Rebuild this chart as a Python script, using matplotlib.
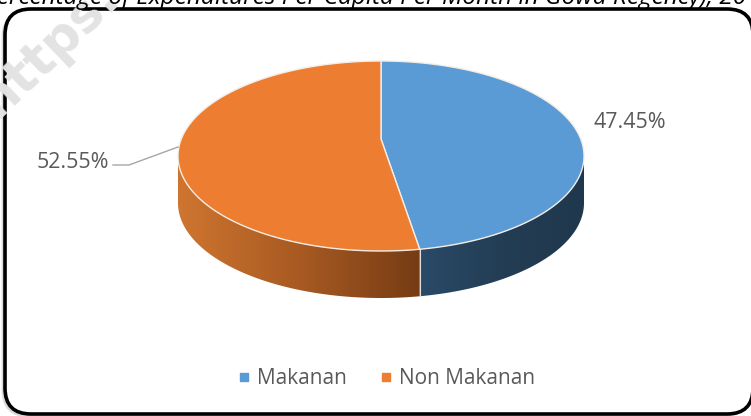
import numpy as np
import matplotlib
matplotlib.use("Agg")
import matplotlib.pyplot as plt
from matplotlib.colors import LinearSegmentedColormap
from matplotlib.patches import FancyBboxPatch, Polygon

# data
categories = ["Makanan", "Non Makanan"]
shares = [47.45, 52.55]
share_labels = ["47.45%", "52.55%"]
title = "Percentage of Expenditures Per Capita Per Month in Gowa Regency), 2017"

top_colors = ["#5B9BD5", "#ED7D31"]
side_colors = [["#2A4A68", "#233D54", "#20384D"], ["#CF7530", "#A85A22", "#763C14"]]

# pie geometry in pixels
cx, cy = 381, 156
rx, ry = 203, 95
depth = 47
# perspective: the pie centre sits above the middle of the ellipse
tilt = 0.179


def rim_angle(theta):
    """Angle on the drawn ellipse for an angle on the flat pie"""
    s, c = np.sin(theta), np.cos(theta)
    d = 1 + tilt * s
    return np.arctan2((s + tilt) / d, c * np.sqrt(1 - tilt ** 2) / d)


def edge(phi):
    return cx + rx * np.cos(phi), cy - ry * np.sin(phi)


fig = plt.figure(figsize=(7.51, 4.16), dpi=100)
ax = fig.add_axes([0, 0, 1, 1])
ax.set_xlim(0, 751)
ax.set_ylim(416, 0)
ax.axis("off")

# frame
ax.add_patch(FancyBboxPatch((3, 11), 746, 405, boxstyle="round,pad=0,rounding_size=26",
                            fc="none", ec="#DADADA", lw=2, zorder=1))
ax.add_patch(FancyBboxPatch((5, 9), 748, 405, boxstyle="round,pad=0,rounding_size=26",
                            fc="white", ec="black", lw=2.6, zorder=2))

# watermark
ax.text(50, 49, "https:", rotation=44, fontsize=37, fontweight="bold", color="#E3E3E3",
        ha="center", va="center", family="DejaVu Sans", zorder=3)

# title, cut by the top edge
ax.text(378, 4.5, title, fontsize=17.6, style="italic", color="black", ha="center", va="baseline",
        family="Open Sans", zorder=5)

# slices go clockwise from 12 o'clock
stops = np.cumsum([0] + shares) / 100.0
angles = np.pi / 2 - 2 * np.pi * stops
seam = rim_angle(angles[1])

# side wall, only the front half shows
wall_spans = [(seam, 0.0), (-np.pi, seam)]
for i in range(2):
    t = np.linspace(wall_spans[i][0], wall_spans[i][1], 200)
    x, y = edge(t)
    pts = np.r_[np.c_[x, y], np.c_[x[::-1], y[::-1] + depth]]
    clip = Polygon(pts, transform=ax.transData, fc="none", ec="none")
    ax.add_patch(clip)
    cmap = LinearSegmentedColormap.from_list("side", side_colors[i])
    grad = np.linspace(0, 1, 256)[None, :]
    im = ax.imshow(grad, extent=[x.min(), x.max(), cy + ry + depth + 2, cy - 2], cmap=cmap,
                   aspect="auto", zorder=4, interpolation="bilinear")
    im.set_clip_path(clip)
    ax.set_xlim(0, 751)
    ax.set_ylim(416, 0)

# seam between the two wall pieces
sx, sy = edge(seam)
ax.plot([sx, sx], [sy, sy + depth], color="#DDDDDD", lw=0.8, zorder=4.5)

# top face
apex_y = cy - ry * tilt
for i in range(2):
    t = np.linspace(rim_angle(angles[i]), rim_angle(angles[i + 1]), 300)
    if i == 1:
        t = np.linspace(seam, -1.5 * np.pi, 300)
    x, y = edge(t)
    ax.fill(np.r_[cx, x], np.r_[apex_y, y], fc=top_colors[i], ec="#F4EDE6", lw=1.0, zorder=5,
            joinstyle="round")

# labels
ax.text(630, 122.5, share_labels[0], fontsize=15.4, color="#595959", ha="center", va="center",
        family="Open Sans", zorder=6)
ax.text(73, 162, share_labels[1], fontsize=15.4, color="#595959", ha="center", va="center",
        family="Open Sans", zorder=6)
ax.plot([113, 129, 178], [165, 165, 147], color="#A6A6A6", lw=1.0, zorder=6)

# legend
ax.scatter([244], [377], marker="s", s=30, color=top_colors[0], zorder=6)
ax.text(257, 378.5, categories[0], fontsize=15, color="#595959", ha="left", va="center",
        family="Open Sans", zorder=6)
ax.scatter([386], [377], marker="s", s=30, color=top_colors[1], zorder=6)
ax.text(399, 378.5, categories[1], fontsize=15, color="#595959", ha="left", va="center",
        family="Open Sans", zorder=6)

fig.savefig("out.png", dpi=100)
